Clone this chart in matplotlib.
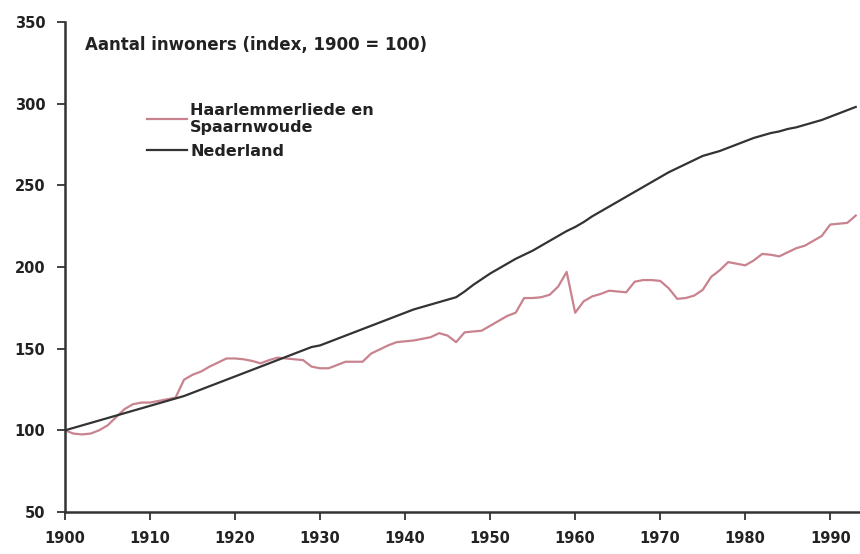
import matplotlib
matplotlib.use('Agg')
import matplotlib.pyplot as plt

# Population index (1900 = 100)
years = list(range(1900, 1994))

haarlemmerliede = [
    100, 98, 97.5, 98, 100, 103, 108, 113, 116, 117,
    117, 118, 119, 120, 131, 134, 136, 139, 141.5, 144,
    144, 143.5, 142.5, 141, 143, 144.5, 144, 143.5, 143, 139,
    138, 138, 140, 142, 142, 142, 147, 149.5, 152, 154,
    154.5, 155, 156, 157, 159.5, 158, 154, 160, 160.5, 161,
    164, 167, 170, 172, 181, 181, 181.5, 183, 188, 197,
    172, 179, 182, 183.5, 185.5, 185, 184.5, 191, 192, 192,
    191.5, 187, 180.5, 181, 182.5, 186, 194, 198, 203, 202,
    201, 204, 208, 207.5, 206.5, 209, 211.5, 213, 216, 219,
    226, 226.5, 227, 231.5,
]

nederland = [
    100, 101.5, 103, 104.5, 106, 107.5, 109, 110.5, 112, 113.5,
    115, 116.5, 118, 119.5, 121, 123, 125, 127, 129, 131,
    133, 135, 137, 139, 141, 143, 145, 147, 149, 151,
    152, 154, 156, 158, 160, 162, 164, 166, 168, 170,
    172, 174, 175.5, 177, 178.5, 180, 181.5, 185, 189, 192.5,
    196, 199, 202, 205, 207.5, 210, 213, 216, 219, 222,
    224.5, 227.5, 231, 234, 237, 240, 243, 246, 249, 252,
    255, 258, 260.5, 263, 265.5, 268, 269.5, 271, 273, 275,
    277, 279, 280.5, 282, 283, 284.5, 285.5, 287, 288.5, 290,
    292, 294, 296, 298,
]

x_ticks = list(range(1900, 2000, 10))
y_ticks = [50, 100, 150, 200, 250, 300, 350]

pink = '#c8838f'
dark = '#333333'
text_col = '#222222'

fig = plt.figure(figsize=(8.6, 5.54), dpi=100)
ax = fig.add_axes([65 / 860, 1 - 512 / 554, 1 - 65 / 860, 490 / 554])

ax.plot(years, haarlemmerliede, color=pink, lw=1.6, label='Haarlemmerliede en\nSpaarnwoude')
ax.plot(years, nederland, color=dark, lw=1.6, label='Nederland')

ax.set_xlim(1900, 1993.5)
ax.set_ylim(50, 350)
ax.set_xticks(x_ticks)
ax.set_yticks(y_ticks)

for s in ['top', 'right']:
    ax.spines[s].set_visible(False)
for s in ['left', 'bottom']:
    ax.spines[s].set_linewidth(1.8)
    ax.spines[s].set_color(dark)

ax.tick_params(axis='both', direction='out', length=6, width=1.3, color=dark,
               labelsize=10.5, labelcolor=text_col, pad=8)
for lbl in ax.get_xticklabels() + ax.get_yticklabels():
    lbl.set_fontweight('bold')

ax.text(0.025, 0.953, 'Aantal inwoners (index, 1900 = 100)', transform=ax.transAxes,
        fontsize=12, fontweight='bold', color=text_col, va='center', ha='left')

leg = ax.legend(loc='upper left', bbox_to_anchor=(0.085, 0.865), frameon=False,
                handlelength=2.5, handletextpad=0.2, labelspacing=0.55,
                prop={'size': 11.5, 'weight': 'bold'})
for t in leg.get_texts():
    t.set_color(text_col)

fig.savefig('out.png', dpi=100)
